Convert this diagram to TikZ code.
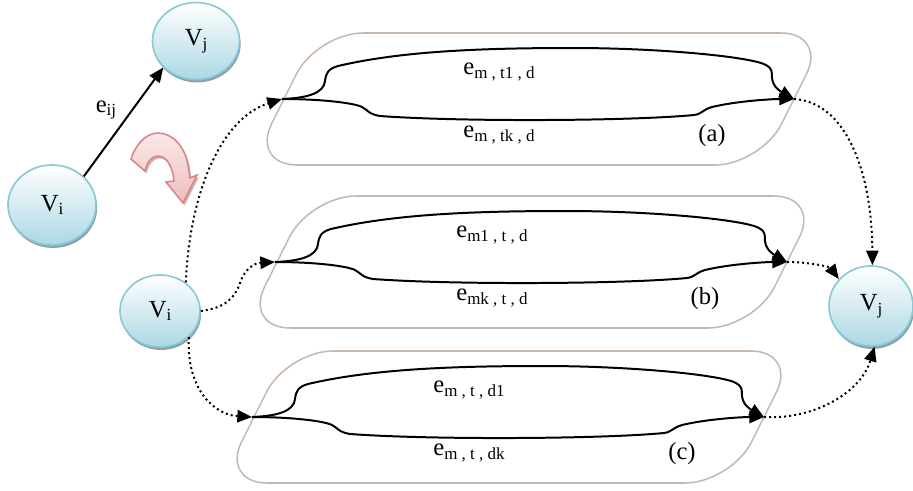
\documentclass[tikz,border=0pt]{standalone}
\usepackage{fontspec}
\setmainfont{Liberation Serif}
\usetikzlibrary{arrows.meta,shapes.geometric,shadows}

\definecolor{nodefill}{RGB}{172,216,228}
\definecolor{nodeedge}{RGB}{138,200,214}
\definecolor{nodeshadow}{RGB}{138,162,172}
\definecolor{boxedge}{RGB}{198,184,172}
\definecolor{bendfill}{RGB}{238,190,190}
\definecolor{bendedge}{RGB}{214,132,132}
\definecolor{bendshadow}{RGB}{190,160,160}

% lowered, smaller index text
\newcommand\subtext[1]{\raisebox{-3pt}{\fontsize{14.5pt}{15pt}\selectfont #1}}

\tikzset{
  vertex/.style={ellipse, draw=nodeedge, line width=1.4pt, inner sep=0pt,
    top color=white, bottom color=nodefill,
    drop shadow={shadow xshift=1pt, shadow yshift=-2.5pt, fill=nodeshadow, opacity=1},
    font=\fontsize{21pt}{23pt}\selectfont},
  lbl/.style={inner sep=0pt, font=\fontsize{21pt}{23pt}\selectfont},
  tagtext/.style={inner sep=0pt, font=\fontsize{21pt}{23pt}\selectfont},
  branch/.style={line width=1.7pt, -{Triangle[length=12.5pt,width=10.5pt]}},
  link/.style={line width=1.7pt, dash pattern=on 1.7pt off 2.6pt,
    -{Triangle[length=12.5pt,width=10.5pt]}},
  solidlink/.style={line width=1.7pt, -{Triangle[length=12.5pt,width=10.5pt]}},
  boxline/.style={draw=boxedge, line width=1.3pt, rounded corners=1.38cm},
  bendarrow/.style={draw=bendedge, line width=1.3pt, top color=bendfill!35!white,
    bottom color=bendfill,
    drop shadow={shadow xshift=1.5pt, shadow yshift=-2pt, fill=bendshadow, opacity=0.8}}
}

% one group of parallel edges: #1 name suffix, #2 shift, #3 upper label, #4 lower label, #5 tag
\newcommand\routebox[5]{%
  \begin{scope}[shift={#2}]
    \coordinate (s#1) at (0,0);
    \coordinate (e#1) at (512,0);
    \draw[boxline] (290,-66) -- (545,-66) -- (479,66) -- (-31,66) -- (35,-66) -- cycle;
    \draw[branch] (s#1) .. controls (26,-1) and (42,-6) .. (43,-18)
      .. controls (44,-26) and (46,-30) .. (56,-33)
      .. controls (120,-48) and (200,-51) .. (291,-51)
      .. controls (380,-51) and (470,-42) .. (484,-34)
      .. controls (490,-31) and (490,-27) .. (490,-21)
      .. controls (491,-12) and (498,-8) .. (e#1);
    \draw[branch] (s#1) .. controls (40,0) and (72,4) .. (80,8)
      .. controls (86,11) and (86,15) .. (98,17)
      .. controls (180,23) and (350,22) .. (412,16)
      .. controls (420,15) and (420,11) .. (430,8)
      .. controls (455,2) and (490,0) .. (e#1);
    \node[lbl] (up#1) at (217,-27) {#3};
    \node[lbl] (lo#1) at (217,36) {#4};
    \node[tagtext] (tag#1) at (430,37) {#5};
  \end{scope}}

\begin{document}
\begin{tikzpicture}[x=0.03cm,y=-0.03cm]
  \useasboundingbox (0,0) rectangle (913,490);

  % single edge
  \node[vertex, minimum width=2.61cm, minimum height=2.31cm] (vj1) at (196,41) {V\subtext{j}};
  \node[vertex, minimum width=2.64cm, minimum height=2.4cm] (vi1) at (52,205) {V\subtext{i}};
  \draw[solidlink] (vi1.42) -- (vj1.219);
  \node[lbl] (eij) at (106,110) {e\subtext{ij}};

  % curved block arrow
  \path[bendarrow] (131,159) .. controls (135,146) and (145,133) .. (158,133)
    .. controls (173,133) and (185,147) .. (188,165) -- (190,178) -- (197,175)
    -- (183,203) -- (166,182) -- (174,181)
    .. controls (173,168) and (167,156) .. (158,156)
    .. controls (152,156) and (147,162) .. (145,171) -- cycle;

  % the three groups
  \routebox{a}{(282,99)}{e\subtext{m , t1 , d}}{e\subtext{m , tk , d}}{(a)}
  \routebox{b}{(275,262)}{e\subtext{m1 , t , d}}{e\subtext{mk , t , d}}{(b)}
  \routebox{c}{(252,417)}{e\subtext{m , t , d1}}{e\subtext{m , t , dk}}{(c)}

  % end vertices
  \node[vertex, minimum width=2.4cm, minimum height=2.16cm] (vi2) at (160,311) {V\subtext{i}};
  \node[vertex, minimum width=2.52cm, minimum height=2.4cm] (vj2) at (871,306) {V\subtext{j}};

  % dotted links
  \draw[link] (vi2.48) .. controls (190,190) and (222,118) .. (sa);
  \draw[link] (vi2.east) .. controls (225,308) and (235,298) .. (240,283)
    .. controls (245,268) and (255,263) .. (sb);
  \draw[link] (vi2.-42) .. controls (186,390) and (215,415) .. (sc);
  \draw[link] (ea) .. controls (845,102) and (872,170) .. (vj2.88);
  \draw[link] (eb) .. controls (810,262) and (830,267) .. (vj2.140);
  \draw[link] (ec) .. controls (810,420) and (860,395) .. (vj2.-85);
\end{tikzpicture}
\end{document}
